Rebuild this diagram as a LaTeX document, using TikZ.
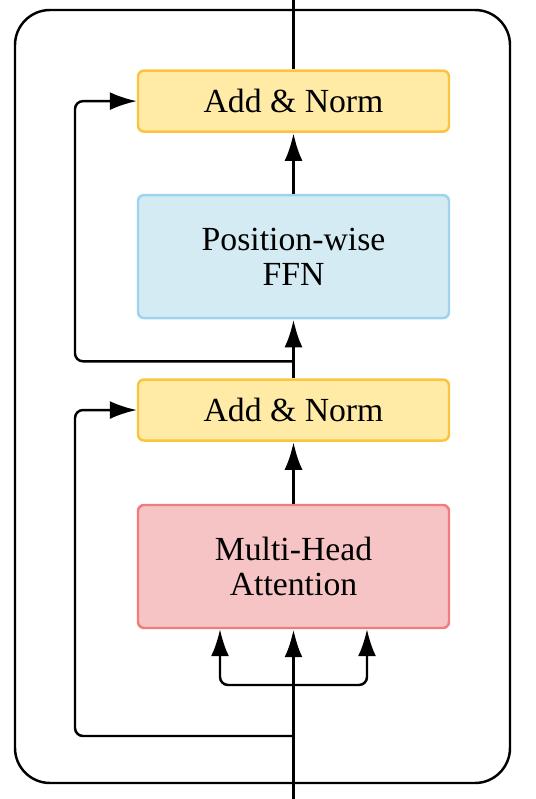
\documentclass[tikz,border=0pt]{standalone}
\usepackage{fontspec}
\setmainfont{Liberation Serif}
\usetikzlibrary{positioning,arrows.meta}
\definecolor{myyellow}{RGB}{255,235,166}
\definecolor{myyellowdark}{RGB}{251,196,63}
\definecolor{myblue}{RGB}{213,235,243}
\definecolor{mybluedark}{RGB}{158,211,240}
\definecolor{myred}{RGB}{246,196,196}
\definecolor{myreddark}{RGB}{240,124,124}
\tikzstyle{block}=[draw,line width=1.4pt,rounded corners=0.12cm,minimum width=6.22cm,align=center,font=\fontsize{19.2}{20}\selectfont]
\tikzstyle{block norm}=[block,minimum height=1.22cm,fill=myyellow,draw=myyellowdark]
\tikzstyle{block ffn}=[block,minimum height=2.46cm,fill=myblue,draw=mybluedark]
\tikzstyle{block attn}=[block,minimum height=2.46cm,fill=myred,draw=myreddark]
\tikzstyle{connect}=[line width=1.4pt]
\tikzstyle{connect arrow}=[-{Latex[length=0.56cm,width=0.36cm]},line width=2pt]
\tikzstyle{residual arrow}=[-{Latex[length=0.54cm,width=0.36cm]},line width=1.4pt,rounded corners=0.16cm]

\begin{document}
\begin{tikzpicture}[node distance=1.24cm]
\useasboundingbox (0,0) rectangle (10.7,15.98);

% Outer frame
\draw [line width=1.4pt,rounded corners=0.7cm] (0.30,0.32) rectangle (10.20,15.78);

% Attention sublayer
\node [block attn] (MHA) at (5.87,4.65) {Multi-Head\\Attention};
\node [block norm] (AN1) [above=1.24cm of MHA] {Add \& Norm};

% FFN sublayer
\node [block ffn] (FFN) [above=1.18cm of AN1] {Position-wise\\FFN};
\node [block norm] (AN2) [above=1.22cm of FFN] {Add \& Norm};

\coordinate (in) at (MHA.south |- 0,0);
\coordinate (out) at (AN2.north |- 0,15.98);
\coordinate [above=2.28cm of in] (split);
\coordinate [above=1.26cm of in] (res1);
\coordinate [above=0.34cm of AN1.north] (res2);

\begin{scope} [connect arrow]
    \draw (in) -- (MHA.south);
    \draw (MHA) -- (AN1);
    \draw (AN1) -- (FFN);
    \draw (FFN) -- (AN2);
\end{scope}
\draw [connect] (AN2) -- (out);

% query, key, value and residuals
\begin{scope} [residual arrow]
    \draw (split) -| ([xshift=-1.47cm]MHA.south);
    \draw (split) -| ([xshift=1.47cm]MHA.south);
    \draw (res1) -- ++(-4.37,0) |- (AN1.west);
    \draw (res2) -- ++(-4.37,0) |- (AN2.west);
\end{scope}

\end{tikzpicture}
\end{document}
